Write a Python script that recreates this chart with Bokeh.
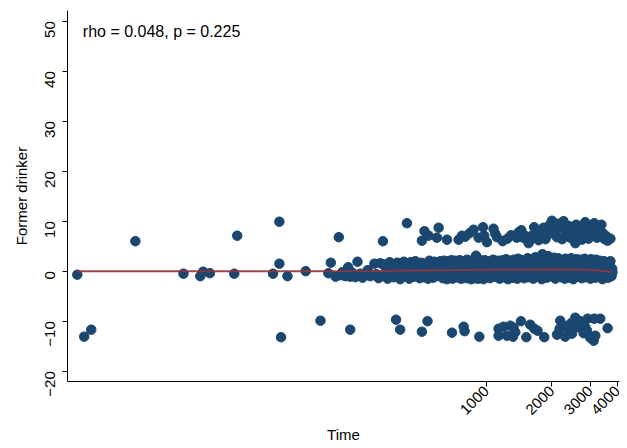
import math
from bokeh.plotting import figure
from bokeh.models import Range1d, FixedTicker, PrintfTickFormatter, Label
from bokeh.embed import file_html
from bokeh.resources import INLINE

# ---------------- data ----------------
x_ticks = [1000, 2000, 3000, 4000]
y_ticks = [-20, -10, 0, 10, 20, 30, 40, 50]

sparse_time = [13.2, 14.2, 15.3, 24.4, 40.6, 48.5, 50, 53.7, 69.5, 71.7, 104.7, 112, 112,
               114, 122, 148, 173, 210, 237, 335]
sparse_val = [-0.7, -13.1, -11.7, 6.0, -0.5, -1.0, -0.1, -0.4, -0.5, 7.1, -0.5, 9.9, 1.5,
              -13.2, -1.0, 0.0, -9.9, 6.8, -11.7, 6.0]

upper_time = [432, 506, 520, 543, 593, 604, 660, 746, 773, 801, 838, 874, 922, 966, 979,
              1007, 1080, 1100, 1120, 1190, 1250, 1300, 1380, 1410, 1450, 1480, 1520, 1565,
              1600, 1620, 1660, 1710, 1740, 1770, 1800, 1833, 1870, 1900, 1950, 2004, 2025,
              2060, 2113, 2150, 2188, 2230, 2266, 2310, 2364, 2400, 2432, 2500, 2565, 2592,
              2656, 2700, 2750, 2800, 2850, 2903, 2950, 3005, 3060, 3135, 3180, 3225, 3300,
              3380, 3437, 3500, 3560, 3611, 3720]
upper_val = [9.6, 6.1, 8.0, 7.1, 6.7, 8.7, 6.3, 6.3, 7.1, 6.9, 7.6, 8.3, 6.7, 8.8, 7.1,
             5.8, 8.5, 7.5, 6.8, 6.0, 6.5, 7.2, 6.7, 7.8, 8.2, 6.7, 7.0, 5.6,
             6.3, 7.1, 8.8, 7.9, 6.2, 6.7, 7.6, 8.7, 6.4, 7.1, 9.2, 10.1, 8.3,
             7.4, 6.8, 9.5, 8.7, 6.4, 10.0, 7.3, 8.0, 9.0, 6.7, 7.6, 5.6, 9.3,
             7.5, 8.6, 6.3, 6.8, 9.8, 8.0, 6.5, 8.8, 7.2, 9.6, 8.1, 6.7, 7.1,
             9.3, 7.6, 6.4, 7.0, 6.1, 6.5]

middle_time = [188, 193, 203, 213, 218, 225, 232, 237, 242, 250, 256, 264, 270, 278, 285,
               293, 306, 312, 320, 326, 335, 340, 348, 352, 360, 368, 375, 382, 390, 396,
               402, 410, 418, 424, 430, 436, 443, 450, 458, 465, 472, 480, 488, 495, 503,
               510, 518, 525, 532, 540, 548, 555, 562, 570, 578, 585, 592, 600, 608, 615,
               620, 620, 632, 632, 640, 640, 652, 652, 660, 660, 670, 670, 680, 680, 692,
               692, 700, 700, 712, 712, 720, 720, 733, 733, 745, 745, 755, 755, 768, 768,
               780, 780, 790, 790, 805, 805, 815, 815, 828, 828, 840, 840, 852, 852, 865,
               865, 878, 878, 897, 890, 890, 905, 905, 918, 918, 930, 930, 945, 945, 958,
               958, 970, 970, 985, 985, 998, 998,
               1010, 1022, 1035, 1040, 1055, 1066, 1075, 1088, 1095, 1105, 1118, 1128,
               1140, 1152, 1163, 1175, 1188, 1196, 1210, 1222, 1233, 1245, 1258, 1270,
               1285, 1296, 1308, 1325, 1337, 1349, 1362, 1375, 1388, 1402, 1414, 1428,
               1446, 1458, 1470, 1492, 1505, 1518, 1538, 1550, 1562, 1585, 1598, 1610,
               1632, 1645, 1657, 1682, 1694, 1706, 1732, 1745, 1758, 1788, 1800, 1812,
               1842, 1855, 1868, 1898, 1912, 1925, 1958, 1972, 1986, 2018, 2032, 2046,
               2078, 2092, 2106, 2142, 2158, 2172, 2208, 2224, 2240, 2278, 2294, 2310,
               2348, 2365, 2382, 2418, 2436, 2454, 2494, 2512, 2530, 2568, 2586, 2605,
               2648, 2667, 2686, 2728, 2748, 2768, 2812, 2833, 2853, 2898, 2920, 2940,
               2988, 3010, 3032, 3078, 3100, 3122, 3172, 3195, 3218, 3272, 3296, 3320,
               3372, 3398, 3422, 3478, 3505, 3530, 3584, 3610, 3636, 3692, 3720, 3745,
               3760, 3790, 3800]
middle_val = [-0.4, 1.7, -1.1, -0.8, -0.2, -1.0, 0.8, -1.1, -0.3, -1.2, 1.9, -0.5, -1.3, -0.7, 0.2,
              -1.0, 1.5, -0.6, -1.4, 1.6, 1.4, -0.9, 0.3, -1.5, 1.8, -0.4, -1.2, 0.6, 1.7, -0.8,
              -1.6, 0.2, 1.9, -1.0, 1.2, -0.3, -1.5, 1.8, 0.5, -1.1, 2.0, -0.6, 0.9, -1.4, 1.7,
              -0.2, -1.2, 1.5, 0.4, -1.5, 2.1, -0.7, 1.0, -1.3, 1.9, 0.1, -1.0, 1.6, -0.5, 2.0,
              1.9, -0.8, 0.4, -1.4, 2.1, -0.2, -1.1, 1.2, 0.6, -1.6, 2.0, -0.5, 1.0, -1.2, -0.1,
              2.2, 1.5, -1.5, -0.6, 0.8, 2.1, -1.0, 0.3, 1.7, -1.3, 0.9, 2.2, -0.4, 1.2, -1.5,
              -0.2, 2.0, 0.7, -1.1, 1.8, -0.6, -1.4, 2.3, 0.5, 1.4, -0.9, 2.0, 1.1, -1.6, -0.3,
              2.2, 1.6, -1.0, 3.1, 0.2, -1.4, 2.1, -0.7, 1.0, -1.5, 2.3, 0.1, -1.1, 1.5, 2.0,
              -0.4, 0.8, -1.6, 2.2, -0.9, 1.3, 0.0,
              2.0, -0.9, 0.6, -1.4, 1.8, -0.2, 2.3, 0.9, -1.1, 1.5, -0.6, 2.1,
              0.2, -1.5, 1.9, -0.4, 2.2, 0.8, -1.2, 1.4, 2.4, 0.0, -1.6, 1.7,
              2.1, -0.8, 0.7, -1.3, 2.3, 1.1, -0.3, 1.9, -1.5, 2.5, 0.4, -1.0,
              1.6, -0.5, 2.2, -1.4, 0.9, 2.0, -0.2, 2.6, -1.2, 1.3, -0.7, 2.3,
              0.3, -1.5, 2.0, 2.8, -0.4, 1.2, -1.1, 2.4, 0.6, 2.0, -1.6, 3.4,
              0.9, -0.6, 2.5, -1.3, 1.7, 3.0, 0.2, 2.3, -1.0, 1.5, -0.3, 2.7,
              -1.5, 2.1, 0.7, 2.6, -0.8, 1.3, -1.2, 2.2, 0.1, 1.8, -1.5, 2.5,
              0.5, -0.6, 2.2, -1.3, 1.6, 2.6, 0.0, -1.6, 2.1, 1.2, -0.4, 2.4,
              -1.1, 2.0, 0.8, 2.3, -1.4, 1.0, -0.2, 2.5, -1.2, 1.5, -0.7, 2.2,
              0.4, -1.5, 2.4, 1.9, -0.5, 0.9, -1.3, 2.3, 0.2, 1.4, -1.0, 2.1,
              -0.3, 1.8, -1.6, 2.0, 0.6, -1.1, -0.4, 1.7, -1.3, 0.3, 2.0, -0.8,
              -1.0, 0.5, -0.2]

lower_time = [385, 402, 506, 537, 696, 787, 795, 929, 1139, 1139, 1200, 1245, 1289, 1327,
              1335, 1359, 1443, 1527, 1593, 1662, 1720, 1847, 2113, 2172, 2188, 2266, 2306,
              2391, 2452, 2476, 2565, 2612, 2703, 2800, 2850, 2903, 2922, 3005, 3115, 3135,
              3170, 3341, 3611]
lower_val = [-9.7, -11.7, -12.1, -10.0, -12.3, -11.1, -12.0, -13.1, -11.5, -12.9, -11.1, -12.9,
             -10.9, -13.1, -11.3, -12.2, -10.0, -13.2, -10.7, -11.5, -11.9, -13.2, -12.7, -11.5,
             -9.9, -10.9, -13.1, -11.7, -10.4, -12.5, -9.3, -11.2, -10.0, -12.4, -11.2, -11.9,
             -9.5, -13.3, -13.9, -9.5, -12.9, -9.5, -11.4]

lowess_time = [13.2, 50, 150, 300, 600, 1000, 1500, 2000, 2500, 3000, 3400, 3800]
lowess_val = [0.0, 0.0, 0.0, 0.05, 0.2, 0.3, 0.35, 0.4, 0.35, 0.3, 0.1, -0.15]

annotation = "rho = 0.048, p = 0.225"

# ---------------- figure ----------------
FONT = "Liberation Sans"
p = figure(width=626, height=447, x_axis_type="log",
           x_range=Range1d(11.9, 4095), y_range=Range1d(-22.06, 52.14),
           output_backend="svg", toolbar_location=None,
           min_border_left=67, min_border_top=10, min_border_right=7, min_border_bottom=66)
p.grid.visible = False
p.outline_line_color = None
p.background_fill_color = "white"
p.border_fill_color = "white"

p.xaxis.ticker = FixedTicker(ticks=x_ticks)
p.xaxis.formatter = PrintfTickFormatter(format="%d")
p.xaxis.major_label_orientation = math.pi / 4
p.xaxis.axis_label = "Time"
p.yaxis.ticker = FixedTicker(ticks=y_ticks)
p.yaxis.major_label_orientation = math.pi / 2
p.yaxis.axis_label = "Former drinker"

for ax in (p.xaxis[0], p.yaxis[0]):
    ax.minor_tick_line_color = None
    ax.major_tick_out = 5
    ax.major_tick_in = 0
    ax.axis_line_color = "black"
    ax.major_tick_line_color = "black"
    ax.major_label_text_font = FONT
    ax.major_label_text_font_size = "15px"
    ax.major_label_text_color = "black"
    ax.axis_label_text_font = FONT
    ax.axis_label_text_font_size = "15px"
    ax.axis_label_text_font_style = "normal"
    ax.axis_label_text_color = "black"
p.yaxis.major_label_standoff = 12
p.yaxis.axis_label_standoff = 8
p.xaxis.major_label_standoff = 2
p.xaxis.axis_label_standoff = 4

all_time = sparse_time + upper_time + middle_time + lower_time
all_val = sparse_val + upper_val + middle_val + lower_val
p.scatter(all_time, all_val, size=9.5, fill_color="#1a476f", line_color="#1a476f")
p.line(lowess_time, lowess_val, line_color="#90353b", line_width=2.0, line_alpha=0.9)

p.add_layout(Label(x=14.0, y=47.9, text=annotation, text_font=FONT, text_font_size="16px",
                   text_color="black", text_baseline="alphabetic"))

open("out.html", "w").write(file_html(p, INLINE))
